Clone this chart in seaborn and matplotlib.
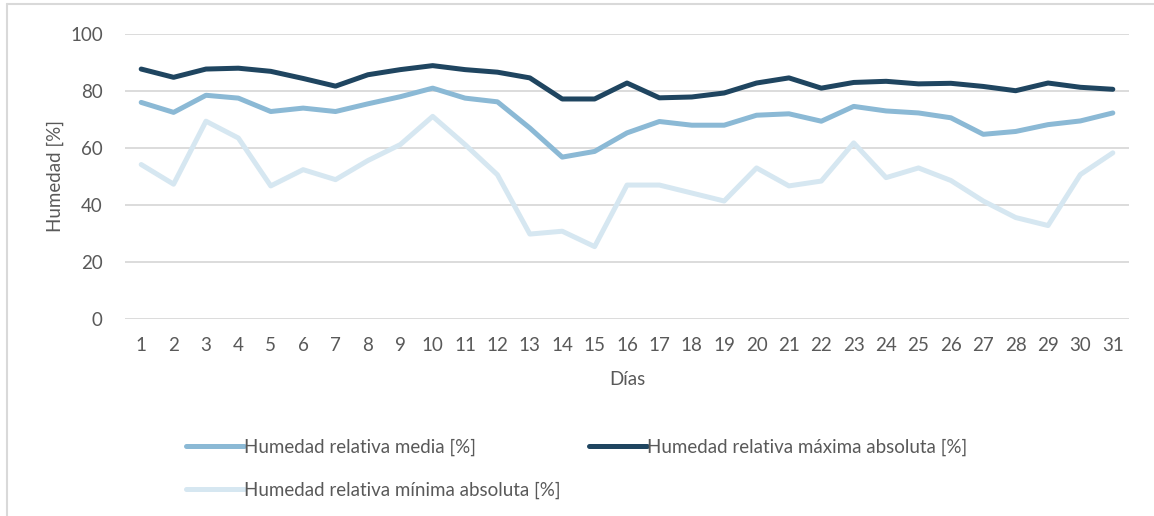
import matplotlib
matplotlib.use("Agg")
import matplotlib.pyplot as plt
from matplotlib.lines import Line2D
import seaborn as sns
import pandas as pd

# datos
dias = list(range(1, 32))
hr_media = [76, 72.5, 78.5, 77.5, 72.8, 74, 72.8, 75.5, 78, 81,
            77.5, 76.2, 67, 56.8, 58.8, 65.3, 69.3, 68, 68, 71.5,
            72, 69.4, 74.6, 73, 72.3, 70.6, 64.8, 65.8, 68.2, 69.5, 72.3]
hr_max = [87.7, 84.8, 87.7, 88, 86.9, 84.4, 81.7, 85.7, 87.5, 88.9,
          87.5, 86.6, 84.6, 77.2, 77.2, 82.8, 77.6, 77.9, 79.3, 82.8,
          84.6, 81, 83, 83.4, 82.5, 82.7, 81.6, 80.1, 82.8, 81.3, 80.6]
hr_min = [54.2, 47.3, 69.4, 63.5, 46.7, 52.4, 48.9, 55.6, 61.2, 71.1,
          61.2, 50.6, 29.8, 30.8, 25.4, 47, 47, 44.2, 41.4, 53,
          46.7, 48.4, 61.8, 49.6, 53, 48.6, 41.4, 35.6, 32.8, 50.7, 58.3]

series = ["Humedad relativa media [%]",
          "Humedad relativa máxima absoluta [%]",
          "Humedad relativa mínima absoluta [%]"]
colores = ["#8BB9D5", "#1F4560", "#D6E7F1"]

df = pd.DataFrame({"dia": dias * 3,
                   "valor": hr_media + hr_max + hr_min,
                   "serie": [series[0]] * 31 + [series[1]] * 31 + [series[2]] * 31})

sns.set_theme(style="white")
plt.rcParams["font.family"] = ["Lato", "DejaVu Sans"]

gris_txt = "#595959"
gris_grid = "#D9D9D9"
fs = 13.5

fig = plt.figure(figsize=(11.54, 5.16), dpi=100)
ax = fig.add_axes([125 / 1154, 197 / 516, 1004 / 1154, 285 / 516])

# orden de dibujo: minima, media, maxima
for i in [2, 0, 1]:
    sub = df[df["serie"] == series[i]]
    sns.lineplot(data=sub, x="dia", y="valor", ax=ax, color=colores[i],
                 linewidth=3.6, solid_capstyle="round", solid_joinstyle="round",
                 legend=False, zorder=3 + i)

ax.set_xlim(0.5, 31.5)
ax.set_ylim(0, 100)
ax.set_xticks(dias)
ax.set_yticks(range(0, 101, 20))
ax.yaxis.grid(True, color=gris_grid, linewidth=1.3)
ax.xaxis.grid(False)
for s in ax.spines.values():
    s.set_visible(False)
ax.tick_params(axis="both", length=0, labelsize=fs, labelcolor=gris_txt)
ax.tick_params(axis="x", pad=13)
ax.tick_params(axis="y", pad=16)
ax.set_xlabel("Días", fontsize=fs, color=gris_txt, labelpad=12)
ax.set_ylabel("Humedad [%]", fontsize=fs, color=gris_txt, labelpad=4)

# leyenda abajo (orden por filas: media, maxima / minima)
orden = [0, 2, 1]
handles = [Line2D([0], [0], color=colores[i], linewidth=3.6, solid_capstyle="round") for i in orden]
fig.legend(handles, [series[i] for i in orden], loc="upper left",
           bbox_to_anchor=(169 / 1154, 1 - 422 / 516),
           ncol=2, frameon=False, fontsize=fs, labelcolor=gris_txt,
           handlelength=3.1, handletextpad=0.0, columnspacing=1.5, labelspacing=1.35)

# marco del area del grafico
fig.add_artist(Line2D([7 / 1154, 7 / 1154], [0, 1 - 4 / 516], color=gris_grid, linewidth=1.5))
fig.add_artist(Line2D([7 / 1154, 1], [1 - 4 / 516, 1 - 4 / 516], color=gris_grid, linewidth=1.5))

fig.savefig("out.png", dpi=100)
